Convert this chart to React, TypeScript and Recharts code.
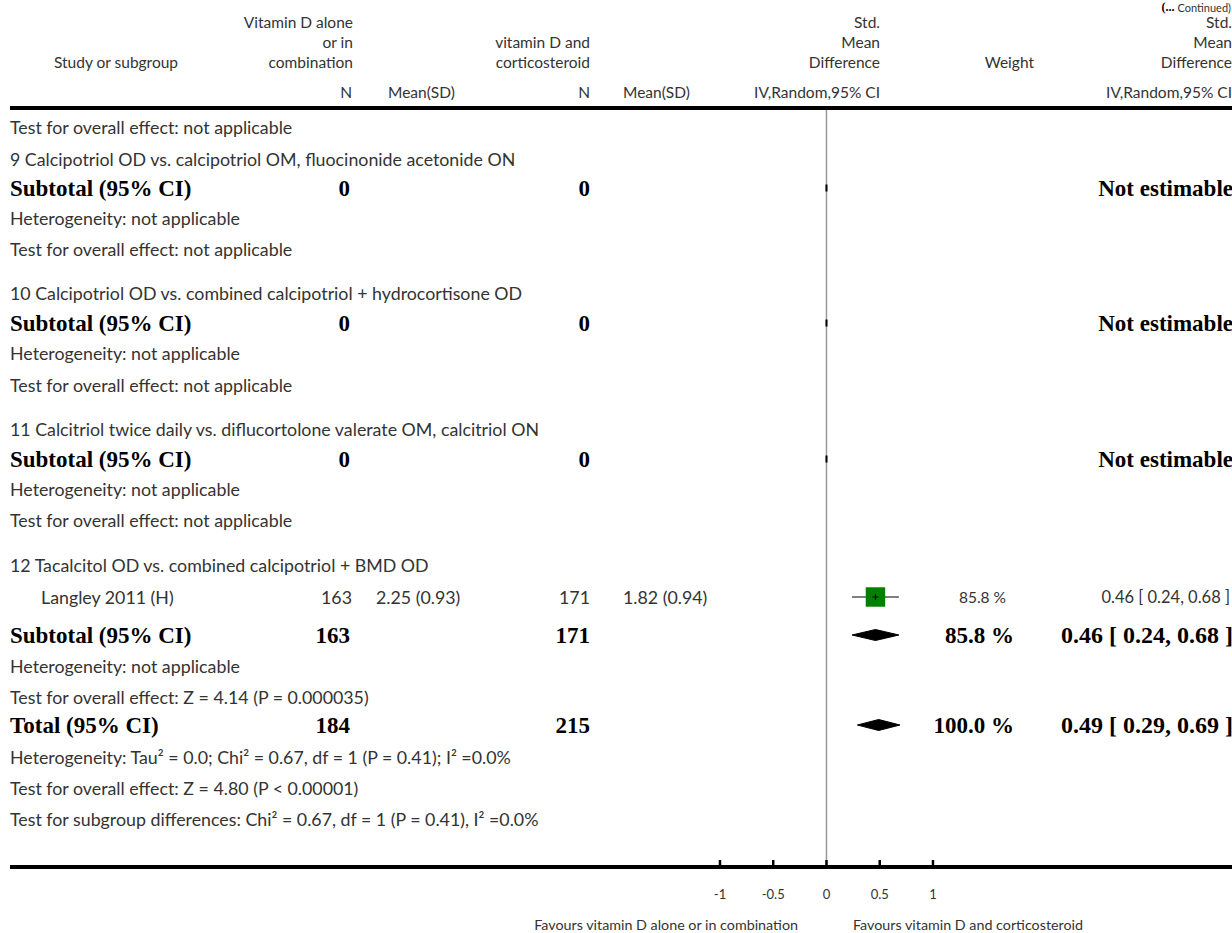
import React from "react";
import {
  ComposedChart,
  XAxis,
  YAxis,
  Scatter,
  ErrorBar,
  Area,
  ReferenceLine,
  Customized,
} from "recharts";

// ---- rows of the table (top to bottom) ----
const rowLabels = [
  "Test for overall effect: not applicable",
  "9 Calcipotriol OD vs. calcipotriol OM, fluocinonide acetonide ON",
  "Subtotal (95% CI)",
  "Heterogeneity: not applicable",
  "Test for overall effect: not applicable",
  "10 Calcipotriol OD vs. combined calcipotriol + hydrocortisone OD",
  "Subtotal (95% CI)",
  "Heterogeneity: not applicable",
  "Test for overall effect: not applicable",
  "11 Calcitriol twice daily vs. diflucortolone valerate OM, calcitriol ON",
  "Subtotal (95% CI)",
  "Heterogeneity: not applicable",
  "Test for overall effect: not applicable",
  "12 Tacalcitol OD vs. combined calcipotriol + BMD OD",
  "Langley 2011 (H)",
  "Subtotal (95% CI)",
  "Heterogeneity: not applicable",
  "Test for overall effect: Z = 4.14 (P = 0.000035)",
  "Total (95% CI)",
  "Heterogeneity: Tau² = 0.0; Chi² = 0.67, df = 1 (P = 0.41); I² =0.0%",
  "Test for overall effect: Z = 4.80 (P < 0.00001)",
  "Test for subgroup differences: Chi² = 0.67, df = 1 (P = 0.41), I² =0.0%",
];
const rowKinds = [
  "note", "group", "sub", "note", "note",
  "group", "sub", "note", "note",
  "group", "sub", "note", "note",
  "group", "study", "sub", "note", "note",
  "sub", "note", "note", "note",
];

// ---- individual studies ----
const studyExpN = ["163"];
const studyExpMean = ["2.25 (0.93)"];
const studyCtlN = ["171"];
const studyCtlMean = ["1.82 (0.94)"];
const studyWeight = [85.8];
const studyEst = [0.46];
const studyLo = [0.24];
const studyHi = [0.68];

// ---- subtotals and total ----
const pooledExpN = ["0", "0", "0", "163", "184"];
const pooledCtlN = ["0", "0", "0", "171", "215"];
const pooledWeight = [null, null, null, 85.8, 100.0];
const pooledEst = [null, null, null, 0.46, 0.49];
const pooledLo = [null, null, null, 0.24, 0.29];
const pooledHi = [null, null, null, 0.68, 0.69];

const xTicks = [-1, -0.5, 0, 0.5, 1];
const leftFavours = "Favours vitamin D alone or in combination";
const rightFavours = "Favours vitamin D and corticosteroid";

// ---- layout ----
const W = 1232;
const H = 933;
const AXIS_Y = 867;
const X_MIN = -7.667;
const X_MAX = 3.808;
const rowY = [127, 159, 188, 218, 249, 293, 323, 353, 385, 429, 459, 489, 520, 565, 597, 635, 666, 697, 725, 757, 788, 819];

const SANS = "Lato, 'Open Sans', sans-serif";
const SERIF = "'Liberation Serif', 'DejaVu Serif', serif";
const GREY = "#333";
const BODY = 17.8;
const HEAD = 15.5;

const studyRows = rowKinds.map((k, i) => (k === "study" ? i : -1)).filter((i) => i >= 0);
const pooledRows = rowKinds.map((k, i) => (k === "sub" ? i : -1)).filter((i) => i >= 0);

const fmtCI = (e: number, l: number, h: number) =>
  `${e.toFixed(2)} [ ${l.toFixed(2)}, ${h.toFixed(2)} ]`;

const studyPoints = studyEst.map((e, i) => ({
  x: e,
  y: rowY[studyRows[i]],
  err: [e - studyLo[i], studyHi[i] - e],
  w: studyWeight[i],
}));

const emptyPooled = pooledEst
  .map((e, i) => (e === null ? { x: 0, y: rowY[pooledRows[i]] } : null))
  .filter(Boolean) as { x: number; y: number }[];

const diamonds = pooledEst
  .map((e, i) => {
    if (e === null) return null;
    const y = rowY[pooledRows[i]];
    return [
      { x: pooledLo[i], band: [y, y] },
      { x: e, band: [y - 5.5, y + 5.5] },
      { x: pooledHi[i], band: [y, y] },
    ];
  })
  .filter(Boolean) as { x: number; band: number[] }[][];

const Square = (props: any) => {
  const { cx, cy, payload } = props;
  const s = 2.1 * Math.sqrt(payload.w);
  return (
    <g>
      <rect x={cx - s / 2} y={cy - s / 2} width={s} height={s} fill="#008000" />
      <line x1={cx} x2={cx} y1={cy - 3} y2={cy + 3} stroke="#000" strokeWidth={1} />
      <line x1={cx - 3} x2={cx + 3} y1={cy} y2={cy} stroke="#000" strokeWidth={1} />
    </g>
  );
};

const ZeroMark = (props: any) => (
  <rect x={props.cx - 1} y={props.cy - 3.5} width={2} height={7} fill="#000" />
);

const AxisTick = (props: any) => {
  const { x, y, payload } = props;
  return (
    <g>
      <line x1={x} x2={x} y1={y - 7} y2={y} stroke="#000" strokeWidth={2.5} />
      <text x={x} y={y + 27} textAnchor="middle" dominantBaseline="central"
        fontFamily={SANS} fontSize={13} fill={GREY}>
        {String(payload.value)}
      </text>
    </g>
  );
};

const T = (p: any) => (
  <text
    x={p.x}
    y={p.y}
    textAnchor={p.anchor || "start"}
    dominantBaseline="central"
    fontFamily={p.bold ? SERIF : SANS}
    fontWeight={p.bold ? 700 : 400}
    fontSize={p.size || (p.bold ? 23 : BODY)}
    fill={p.bold ? "#000" : GREY}
  >
    {p.children}
  </text>
);

const TableText = () => (
  <g>
    {/* header */}
    <text x={1231} y={7} textAnchor="end" dominantBaseline="central">
      <tspan fontFamily={SERIF} fontWeight={700} fontSize={12}>(... </tspan>
      <tspan fontFamily={SANS} fontSize={11} fill={GREY}>Continued)</tspan>
    </text>
    <T x={116} y={62} anchor="middle" size={HEAD}>Study or subgroup</T>
    <T x={353} y={22} anchor="end" size={HEAD}>Vitamin D alone</T>
    <T x={353} y={42} anchor="end" size={HEAD}>or in</T>
    <T x={353} y={62} anchor="end" size={HEAD}>combination</T>
    <T x={590} y={42} anchor="end" size={HEAD}>vitamin D and</T>
    <T x={590} y={62} anchor="end" size={HEAD}>corticosteroid</T>
    <T x={880} y={22} anchor="end" size={HEAD}>Std.</T>
    <T x={880} y={42} anchor="end" size={HEAD}>Mean</T>
    <T x={880} y={62} anchor="end" size={HEAD}>Difference</T>
    <T x={1034} y={62} anchor="end" size={HEAD}>Weight</T>
    <T x={1232} y={22} anchor="end" size={HEAD}>Std.</T>
    <T x={1232} y={42} anchor="end" size={HEAD}>Mean</T>
    <T x={1232} y={62} anchor="end" size={HEAD}>Difference</T>
    <T x={352} y={92} anchor="end" size={HEAD}>N</T>
    <T x={388} y={92} size={HEAD}>Mean(SD)</T>
    <T x={590} y={92} anchor="end" size={HEAD}>N</T>
    <T x={623} y={92} size={HEAD}>Mean(SD)</T>
    <T x={880} y={92} anchor="end" size={HEAD}>IV,Random,95% CI</T>
    <T x={1232} y={92} anchor="end" size={HEAD}>IV,Random,95% CI</T>

    {/* row labels */}
    {rowLabels.map((label, i) => (
      <T key={i} x={rowKinds[i] === "study" ? 41 : 10} y={rowY[i]} bold={rowKinds[i] === "sub"}>
        {label}
      </T>
    ))}

    {/* study rows */}
    {studyRows.map((r, i) => (
      <g key={`s${i}`}>
        <T x={352} y={rowY[r]} anchor="end">{studyExpN[i]}</T>
        <T x={376} y={rowY[r]}>{studyExpMean[i]}</T>
        <T x={590} y={rowY[r]} anchor="end">{studyCtlN[i]}</T>
        <T x={623} y={rowY[r]}>{studyCtlMean[i]}</T>
        <T x={1006} y={rowY[r]} anchor="end" size={15.5}>{`${studyWeight[i].toFixed(1)} %`}</T>
        <T x={1230} y={rowY[r]} anchor="end" size={16.5}>{fmtCI(studyEst[i], studyLo[i], studyHi[i])}</T>
      </g>
    ))}

    {/* pooled rows */}
    {pooledRows.map((r, i) => (
      <g key={`p${i}`}>
        <T x={350} y={rowY[r]} anchor="end" bold>{pooledExpN[i]}</T>
        <T x={590} y={rowY[r]} anchor="end" bold>{pooledCtlN[i]}</T>
        {pooledWeight[i] !== null && (
          <T x={1014} y={rowY[r]} anchor="end" bold>{`${(pooledWeight[i] as number).toFixed(1)} %`}</T>
        )}
        <T x={1233} y={rowY[r]} anchor="end" bold size={pooledEst[i] === null ? 23 : 24}>
          {pooledEst[i] === null
            ? "Not estimable"
            : fmtCI(pooledEst[i] as number, pooledLo[i] as number, pooledHi[i] as number)}
        </T>
      </g>
    ))}

    {/* favours labels */}
    <T x={798} y={924} anchor="end" size={14.3}>{leftFavours}</T>
    <T x={853} y={924} size={14.3}>{rightFavours}</T>
  </g>
);

export default function App() {
  return (
    <div style={{ position: "absolute", left: 0, top: 0, width: W, height: H, background: "#fff" }}>
      <ComposedChart width={W} height={H} margin={{ top: 0, right: 0, bottom: 0, left: 10 }}>
        <XAxis
          dataKey="x"
          type="number"
          domain={[X_MIN, X_MAX]}
          allowDataOverflow
          ticks={xTicks}
          height={H - AXIS_Y}
          axisLine={{ stroke: "#000", strokeWidth: 4 }}
          tickLine={false}
          tickSize={0}
          tickMargin={0}
          tick={<AxisTick />}
          interval={0}
        />
        <YAxis dataKey="y" type="number" domain={[0, AXIS_Y]} reversed hide allowDataOverflow />
        <ReferenceLine y={108} stroke="#000" strokeWidth={4} />
        <ReferenceLine
          segment={[{ x: 0, y: 110 }, { x: 0, y: AXIS_Y }]}
          stroke="#999"
          strokeWidth={1.5}
        />
        {diamonds.map((d, i) => (
          <Area
            key={i}
            data={d}
            dataKey="band"
            type="linear"
            stroke="#000"
            strokeWidth={1}
            fill="#000"
            fillOpacity={1}
            dot={false}
            activeDot={false}
            isAnimationActive={false}
          />
        ))}
        <Scatter data={emptyPooled} shape={<ZeroMark />} isAnimationActive={false} />
        <Scatter data={studyPoints} shape={<Square />} isAnimationActive={false}>
          <ErrorBar dataKey="err" direction="x" width={0} stroke="#000" strokeWidth={1} isAnimationActive={false} />
        </Scatter>
        <Customized component={<TableText />} />
      </ComposedChart>
    </div>
  );
}
